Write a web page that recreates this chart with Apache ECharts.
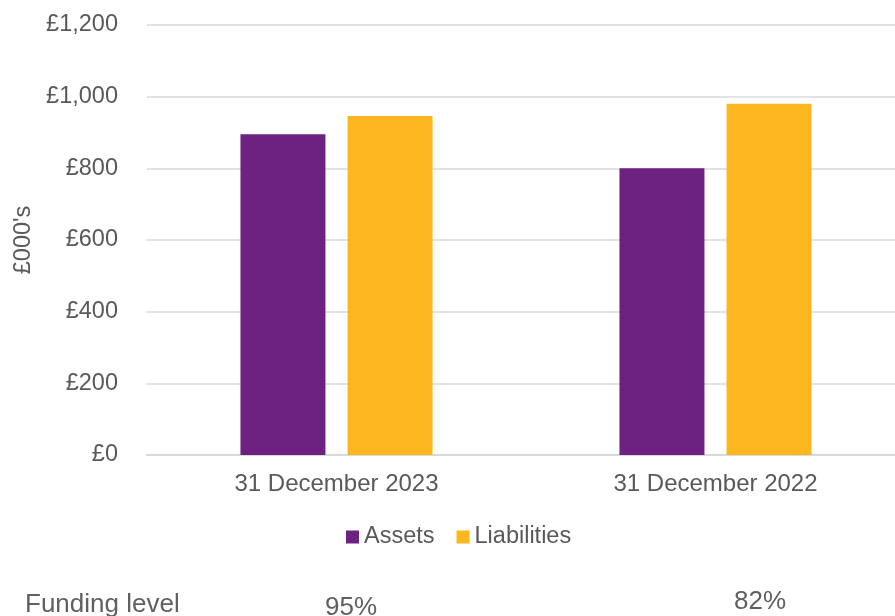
<!DOCTYPE html>
<html>
<head>
<meta charset="utf-8">
<script src="https://cdn.jsdelivr.net/npm/echarts@6/dist/echarts.min.js"></script>
<style>html,body{margin:0;padding:0;background:#fff}#c{width:895px;height:616px}</style>
</head>
<body>
<div id="c"></div>
<script>
const categories = ['31 December 2023', '31 December 2022'];
const assets = [895, 800];
const liabilities = [946, 980];
const fundingLabel = 'Funding level';
const fundingLevels = ['95%', '82%'];
const yTicks = [0, 200, 400, 600, 800, 1000, 1200];

const textColor = '#595959';
const font = 'Liberation Sans, Arial, sans-serif';
const chart = echarts.init(document.getElementById('c'));
chart.setOption({
  animation: false,
  grid: { left: 147, width: 758, top: 25, bottom: 161, outerBoundsMode: 'none', containLabel: false },
  legend: {
    data: ['Assets', 'Liabilities'],
    top: 520,
    left: 341,
    itemWidth: 13, itemHeight: 13, itemGap: 22,
    icon: 'rect',
    textStyle: { color: textColor, fontSize: 23.5, fontFamily: font }
  },
  xAxis: {
    type: 'category',
    data: categories,
    axisLine: { lineStyle: { color: '#d9d9d9', width: 2 } },
    axisTick: { show: false },
    axisLabel: { color: textColor, fontSize: 24, fontFamily: font, margin: 17 }
  },
  yAxis: {
    type: 'value',
    min: yTicks[0], max: yTicks[yTicks.length - 1], interval: 200,
    name: "£000's",
    nameLocation: 'middle',
    nameGap: 111,
    nameRotate: 90,
    nameTextStyle: { color: textColor, fontSize: 23.5, fontFamily: font },
    axisLine: { show: false },
    axisTick: { show: false },
    splitLine: { lineStyle: { color: '#d9d9d9', width: 1.5 } },
    axisLabel: {
      color: textColor, fontSize: 23.5, fontFamily: font, margin: 29,
      formatter: v => '£' + v.toLocaleString('en-GB')
    }
  },
  series: [
    { name: 'Assets', type: 'bar', data: assets, barWidth: 85, barGap: '26%',
      itemStyle: { color: '#6d2180' } },
    { name: 'Liabilities', type: 'bar', data: liabilities, barWidth: 85,
      itemStyle: { color: '#fdb71e' } }
  ],
  graphic: [
    { type: 'text', left: 25, top: 592, style: { text: fundingLabel, fill: '#606060', fontSize: 26, fontFamily: font } },
    { type: 'text', left: 325, top: 595, style: { text: fundingLevels[0], fill: '#606060', fontSize: 26, fontFamily: font } },
    { type: 'text', left: 734, top: 589, style: { text: fundingLevels[1], fill: '#606060', fontSize: 26, fontFamily: font } }
  ]
});
</script>
</body>
</html>
